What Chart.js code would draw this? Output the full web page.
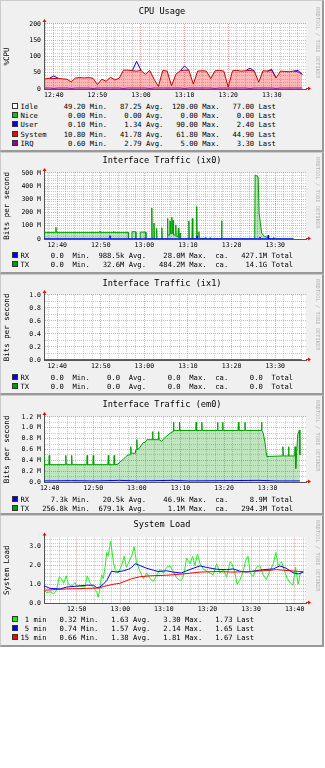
<!DOCTYPE html>
<html>
<head>
<meta charset="utf-8">
<script src="https://cdn.jsdelivr.net/npm/chart.js@4.4.0/dist/chart.umd.min.js"></script>
<style>
body { margin: 0; width: 325px; height: 768px; overflow: hidden; background: #fff; font-family: "DejaVu Sans Mono", monospace; }
.panel { position: absolute; left: 0; width: 324px; box-sizing: border-box; background: #f0f0f0;
  border-top: 1px solid #cbcbcb; border-left: 1px solid #cbcbcb; border-right: 2px solid #999; border-bottom: 2px solid #999; }
.plot { position: absolute; left: -1px; top: -1px; width: 324px; }
.legend { position: absolute; left: 10.5px; font-size: 7.2px; color: #000; }
.legend div { height: 9.2px; line-height: 9.2px; white-space: pre; }
.sq { display: inline-block; width: 4px; height: 4px; border: 1px solid #333; margin-right: 3px; vertical-align: 0px; }
.mark { position: absolute; left: 314px; writing-mode: vertical-rl; font-size: 5.4px; color: #b4b4b4; }
</style>
</head>
<body>

<div class="panel" style="top:0;height:152px">
  <div class="plot" style="height:102px"><canvas id="cpu"></canvas></div>
  <div class="legend" id="lcpu" style="top:101px"></div>
  <div class="mark" style="top:6px">RRDTOOL / TOBI OETIKER</div>
</div>
<div class="panel" style="top:152px;height:122px">
  <div class="plot" style="height:100px"><canvas id="ix0"></canvas></div>
  <div class="legend" id="lix0" style="top:98px"></div>
  <div class="mark" style="top:4px">RRDTOOL / TOBI OETIKER</div>
</div>
<div class="panel" style="top:274px;height:121px">
  <div class="plot" style="height:99px"><canvas id="ix1"></canvas></div>
  <div class="legend" id="lix1" style="top:98px"></div>
  <div class="mark" style="top:4px">RRDTOOL / TOBI OETIKER</div>
</div>
<div class="panel" style="top:395px;height:120px">
  <div class="plot" style="height:100px"><canvas id="em0"></canvas></div>
  <div class="legend" id="lem0" style="top:98.7px"></div>
  <div class="mark" style="top:4px">RRDTOOL / TOBI OETIKER</div>
</div>
<div class="panel" style="top:515px;height:132px">
  <div class="plot" style="height:101px"><canvas id="load"></canvas></div>
  <div class="legend" id="lload" style="top:98.7px"></div>
  <div class="mark" style="top:4px">RRDTOOL / TOBI OETIKER</div>
</div>

<script>
// tempos em minutos depois das 12:00

// CPU Usage
const cpuTimes = [38, 39, 40, 41, 42, 43, 44, 45, 46, 47, 48, 49, 50, 51, 52, 53, 54, 55, 56, 57,
  58, 59, 60, 61, 62, 63, 64, 65, 66, 67, 68, 69, 70, 71, 72, 73, 74, 75, 76, 77,
  78, 79, 80, 81, 82, 83, 84, 85, 86, 87, 88, 89, 90, 91, 92, 93, 94, 95, 96, 97];
const cpuSystem = [31, 33, 32, 33, 31, 30, 22, 34, 35, 34, 35, 33, 14, 30, 24, 36, 28, 33, 58, 58,
  56, 55, 57, 45, 57, 30, 8, 57, 55, 10, 45, 56, 58, 57, 15, 55, 56, 55, 32, 56,
  57, 55, 6, 56, 57, 55, 56, 57, 55, 21, 56, 55, 57, 34, 55, 54, 53, 55, 53, 45];
const cpuUser = [0, 0, 8, 0, 0, 0, 0, 0, 0, 0, 0, 0, 0, 0, 0, 0, 0, 0, 0, 0,
  0, 30, 0, 0, 0, 0, 0, 0, 0, 0, 0, 0, 13, 0, 0, 0, 0, 0, 0, 0,
  0, 0, 0, 0, 0, 0, 0, 7, 0, 0, 0, 0, 3, 0, 0, 0, 0, 0, 4, 0];
const cpuIrq = [3, 3, 2, 3, 3, 3, 2, 3, 3, 3, 3, 2, 3, 3, 3, 3, 3, 3, 2, 3,
  3, 3, 3, 3, 2, 3, 3, 3, 3, 3, 3, 3, 2, 3, 3, 3, 3, 3, 3, 2,
  3, 3, 3, 3, 3, 3, 3, 2, 3, 3, 3, 3, 3, 2, 3, 3, 3, 3, 3, 3];
const cpuNames = ['Idle', 'Nice', 'User', 'System', 'IRQ'];
const cpuMin = [49.20, 0.00, 0.10, 10.80, 0.60];
const cpuAvg = [87.25, 0.00, 1.34, 41.78, 2.79];
const cpuMax = [120.00, 0.00, 90.00, 61.80, 5.00];
const cpuLast = [77.00, 0.00, 2.40, 44.90, 3.30];

// Interface Traffic (ix0), Mbit/s
const ix0TxT = [36.97, 39.6, 39.7, 39.8, 49.7, 49.8, 49.9, 52.8, 52.9, 53.0, 56.3, 56.35,
  57.1, 57.15, 58.0, 58.05, 59.0, 59.05, 60.3, 60.35, 61.6, 61.7, 61.8, 62.1, 62.2, 62.3,
  62.7, 62.8, 62.9, 63.9, 64.0, 64.1, 65.2, 65.3, 65.4, 65.8, 65.9, 66.0, 66.2, 66.3, 66.4,
  66.5, 66.6, 66.7, 67.1, 67.2, 67.3, 67.7, 67.8, 67.9, 68.1, 68.2, 68.3, 70.1, 70.2, 70.3,
  70.9, 71.0, 71.1, 71.9, 72.0, 72.1, 72.4, 72.5, 72.6, 74.0, 74.1, 74.2, 75.0, 75.1, 75.2,
  77.6, 77.7, 77.8, 85.3, 85.4, 86.1, 86.3, 86.6, 86.9, 87.5, 88.5, 88.6, 89.5, 89.6, 89.7, 94.2];
const ix0TxV = [50, 50, 89, 50, 50, 60, 50, 50, 58, 50, 50, 0,
  0, 55, 55, 0, 0, 52, 52, 0, 0, 234, 0, 0, 120, 0,
  0, 80, 0, 0, 85, 0, 0, 155, 30, 30, 137, 40, 40, 165, 40,
  40, 140, 30, 30, 107, 20, 20, 80, 10, 10, 45, 0, 0, 137, 0,
  0, 155, 0, 0, 246, 20, 20, 55, 5, 5, 12, 0, 0, 10, 0,
  0, 137, 0, 0, 485, 470, 200, 120, 45, 20, 10, 0, 0, 10, 0, 0];
const ix0RxT = [36.97, 52.0, 52.1, 52.2, 72.0, 72.1, 72.2, 86.4, 86.5, 86.6, 88.3, 88.4, 88.5, 94.2];
const ix0RxV = [2, 2, 25, 2, 2, 23, 2, 2, 15, 2, 2, 30, 2, 1];
const ix0Min = ['0.0', '0.0'];
const ix0Avg = ['988.5k', '32.6M'];
const ix0Max = ['28.0M', '484.2M'];
const ix0Tot = ['427.1M', '14.1G'];

// Interface Traffic (ix1)
const ix1T = [36.97, 96.1];
const ix1Rx = [0, 0];
const ix1Tx = [0, 0];
const ix1Min = ['0.0', '0.0'];
const ix1Avg = ['0.0', '0.0'];
const ix1Max = ['0.0', '0.0'];
const ix1Tot = ['0.0', '0.0'];

// Interface Traffic (em0), Mbit/s
const em0TxT = [38.7, 38.8,
  39.8, 39.9, 40.0, 43.6, 43.7, 43.8, 44.95, 45.05, 45.15,
  48.5, 48.6, 48.7, 49.9, 50.0, 50.1, 53.35, 53.45, 53.55,
  54.7, 54.8, 54.9, 55.7, 56.1, 56.9, 57.5, 58.0,
  58.5, 58.6, 58.7, 59.6, 59.7, 59.9, 60.0, 60.1,
  60.7, 61.5, 61.9, 62.3, 63.5, 63.6, 63.7, 64.9, 65.0, 65.1,
  65.7, 66.1, 66.9, 67.6, 68.3, 68.4, 68.5,
  69.7, 69.8, 69.9, 73.5, 73.6, 73.7, 74.8, 74.9, 75.0,
  78.4, 78.5, 78.6, 79.6, 79.7, 79.8, 83.2, 83.3, 83.4,
  84.7, 84.8, 84.9, 88.5, 88.6, 88.7, 89.0, 89.4, 89.8,
  93.4, 93.5, 93.6, 94.7, 94.8, 94.9, 96.2, 96.3, 96.4,
  96.5, 96.9, 97.3, 97.4];
const em0TxV = [0.49, 0.32,
  0.32, 0.49, 0.32, 0.32, 0.49, 0.32, 0.32, 0.49, 0.32,
  0.32, 0.49, 0.32, 0.32, 0.49, 0.32, 0.32, 0.49, 0.32,
  0.32, 0.49, 0.32, 0.33, 0.37, 0.42, 0.47, 0.50,
  0.50, 0.65, 0.53, 0.53, 0.59, 0.59, 0.78, 0.59,
  0.64, 0.73, 0.73, 0.78, 0.78, 0.93, 0.78, 0.78, 0.93, 0.78,
  0.75, 0.79, 0.85, 0.90, 0.93, 1.10, 0.95,
  0.95, 1.10, 0.95, 0.95, 1.10, 0.95, 0.95, 1.10, 0.95,
  0.95, 1.10, 0.95, 0.95, 1.10, 0.95, 0.95, 1.10, 0.95,
  0.95, 1.10, 0.95, 0.95, 1.10, 0.95, 0.90, 0.72, 0.47,
  0.48, 0.65, 0.48, 0.48, 0.65, 0.48, 0.48, 0.65, 0.48,
  0.25, 0.87, 0.96, 0.50];
const em0RxT = [38.7, 45, 50, 56, 60, 64, 68, 72, 80, 88, 92, 97.4];
const em0RxV = [0.02, 0.025, 0.02, 0.03, 0.02, 0.025, 0.03, 0.02, 0.025, 0.03, 0.02, 0.02];
const em0Min = ['7.3k', '256.8k'];
const em0Avg = ['20.5k', '679.1k'];
const em0Max = ['46.9k', '1.1M'];
const em0Tot = ['8.9M', '294.3M'];

// System Load
const load1T = [42.5, 43.1, 43.9, 44.6, 45.0, 45.4, 46.0, 46.5, 47.0, 47.6, 48.1, 48.9, 49.6, 50.0,
  50.8, 51.9, 52.4, 53.0, 53.8, 54.6, 54.9, 55.3, 55.7, 56.1, 56.5, 56.9, 57.2, 57.8, 58.4,
  58.8, 59.5, 60.3, 60.9, 61.4, 61.8, 62.6, 63.2, 63.7, 64.5, 65.3, 66.1, 66.8, 67.6, 68.4,
  69.1, 69.9, 70.6, 71.4, 72.1, 72.9, 73.7, 74.3, 74.8, 75.2, 76.0, 76.6, 77.1, 77.7, 78.3,
  79.1, 79.8, 80.6, 81.3, 82.1, 82.9, 83.6, 84.4, 85.2, 85.6, 86.3, 86.8, 87.4, 88.2, 88.8,
  89.3, 89.8, 90.5, 91.2, 92.0, 92.8, 93.5, 94.3, 95.1, 95.7, 96.2, 97.0, 97.7, 98.3, 98.9,
  99.6, 100.2, 100.8, 101.3, 102.0];
const load1 = [0.7, 0.55, 0.6, 0.5, 0.55, 0.7, 1.4, 1.3, 1.05, 1.45, 1.0, 0.9, 1.1, 0.9,
  0.9, 0.85, 1.45, 1.1, 0.85, 0.6, 0.3, 0.7, 1.5, 1.3, 1.9, 2.7, 2.5, 3.3, 2.2,
  1.8, 1.6, 2.0, 2.5, 1.9, 2.1, 2.5, 3.0, 2.2, 1.7, 1.3, 1.6, 1.3, 1.15, 1.5,
  1.8, 1.6, 1.9, 2.0, 1.7, 1.35, 1.2, 1.3, 1.8, 2.4, 2.1, 2.5, 2.0, 2.6, 2.1,
  1.8, 1.7, 1.6, 1.5, 2.1, 1.6, 1.8, 1.4, 2.2, 2.1, 1.6, 1.0, 1.2, 1.7, 2.3,
  2.5, 1.6, 1.4, 1.9, 2.0, 1.5, 1.25, 1.7, 2.1, 2.7, 2.0, 2.2, 1.7, 1.3, 1.1,
  0.95, 1.9, 1.0, 1.6, 1.7];
const load5T = [42.5, 43.9, 46.2, 47.7, 50.0, 52.3, 53.8, 54.6, 55.3, 56.1, 56.9, 58.0, 59.2, 60.7,
  61.9, 62.6, 63.4, 64.5, 66.1, 67.6, 68.7, 70.6, 72.1, 74.0, 75.2, 76.7, 78.3, 79.8, 82.1,
  84.4, 85.9, 87.4, 89.0, 90.5, 92.8, 95.1, 96.6, 98.1, 99.6, 100.8, 102.0];
const load5 = [0.92, 0.78, 0.75, 0.85, 0.9, 0.95, 0.95, 0.82, 0.85, 1.0, 1.2, 1.7, 1.65, 1.72,
  1.8, 1.9, 2.1, 2.0, 1.85, 1.75, 1.68, 1.72, 1.65, 1.6, 1.72, 1.85, 1.98, 1.9, 1.8,
  1.78, 1.82, 1.7, 1.65, 1.7, 1.78, 1.82, 1.98, 1.85, 1.62, 1.55, 1.65];
const load15T = [42.5, 47.7, 52.3, 55.3, 56.1, 58.4, 59.9, 62.6, 64.5, 66.8, 70.6, 74.4, 78.3, 82.1,
  85.9, 89.7, 93.5, 95.8, 97.4, 101.2, 102.0];
const load15 = [0.68, 0.75, 0.78, 0.8, 0.88, 1.0, 1.05, 1.3, 1.4, 1.45, 1.48, 1.55, 1.65, 1.68,
  1.65, 1.68, 1.73, 1.78, 1.75, 1.68, 1.67];
const loadNames = ['1 min', '5 min', '15 min'];
const loadMin = [0.32, 0.74, 0.66];
const loadAvg = [1.63, 1.57, 1.38];
const loadMax = [3.30, 2.14, 1.81];
const loadLast = [1.73, 1.65, 1.67];

Chart.defaults.font.family = '"DejaVu Sans Mono", monospace';
Chart.defaults.color = '#000';

const pts = (t, v) => t.map((x, i) => ({ x: x, y: v[i] }));
const isMult = (v, m) => Math.abs(v / m - Math.round(v / m)) < 1e-6;
const hhmm = v => (12 + Math.floor(v / 60)) + ':' + String(Math.round(v % 60)).padStart(2, '0');
const grade = (v, m) => isMult(v, m) ? 'rgba(200,80,80,0.5)' : 'rgba(140,140,140,0.45)';

// fundo branco da area e setas vermelhas nos eixos
const moldura = {
  id: 'moldura',
  beforeDraw(chart) {
    const a = chart.chartArea, c = chart.ctx;
    c.save();
    c.fillStyle = '#fff';
    c.fillRect(a.left, a.top, a.right - a.left, a.bottom - a.top);
    c.restore();
  },
  afterDraw(chart) {
    const a = chart.chartArea, c = chart.ctx;
    c.save();
    c.strokeStyle = '#555';
    c.lineWidth = 1;
    c.beginPath();
    c.moveTo(a.left + 0.5, a.top); c.lineTo(a.left + 0.5, a.top - 3);
    c.moveTo(a.right, a.bottom - 0.5); c.lineTo(a.right + 3, a.bottom - 0.5);
    c.stroke();
    c.fillStyle = '#f00';
    c.beginPath();
    c.moveTo(a.left - 1.5, a.top - 2); c.lineTo(a.left + 2.5, a.top - 2); c.lineTo(a.left + 0.5, a.top - 5);
    c.fill();
    c.beginPath();
    c.moveTo(a.right + 2, a.bottom - 2.5); c.lineTo(a.right + 2, a.bottom + 1.5); c.lineTo(a.right + 5, a.bottom - 0.5);
    c.fill();
    c.restore();
  }
};

function grafico(id, o) {
  return new Chart(document.getElementById(id), {
    type: 'line',
    data: { datasets: o.datasets },
    options: {
      animation: false,
      responsive: true,
      maintainAspectRatio: false,
      layout: { padding: 0 },
      elements: { point: { radius: 0 }, line: { borderWidth: 1, tension: 0 } },
      plugins: {
        legend: { display: false },
        tooltip: { enabled: false },
        title: {
          display: true, text: o.title,
          font: { size: 8.6, weight: 'normal' },
          padding: { top: o.tTop, bottom: o.tBottom }
        }
      },
      scales: {
        x: {
          type: 'linear', min: o.x0, max: o.x1,
          ticks: { stepSize: 2, includeBounds: false, autoSkip: false, maxRotation: 0, padding: 2,
            font: { size: 6.5 }, callback: v => isMult(v, 10) ? hhmm(v) : '' },
          grid: { drawTicks: false, color: c => grade(c.tick.value, 10) },
          border: { color: '#555', dash: [1, 1] },
          afterFit: s => { s.height = 13; }
        },
        y: {
          min: 0, max: o.yMax, stacked: !!o.stacked,
          ticks: { stepSize: o.yStep, includeBounds: false, autoSkip: false, padding: 3,
            font: { size: 6.5 }, callback: v => isMult(v, o.yMajor) ? o.yFmt(v) : '' },
          grid: { drawTicks: false, color: c => grade(c.tick.value, o.yMajor) },
          border: { color: '#555', dash: [1, 1] },
          title: { display: true, text: o.yTitle, font: { size: 7.5 }, padding: { top: o.yPad, bottom: 0 } },
          afterFit: s => { s.width = 44; }
        },
        yDir: {
          type: 'linear', position: 'right',
          grid: { display: false }, ticks: { display: false }, border: { display: false },
          afterFit: s => { s.width = 18; }
        }
      }
    },
    plugins: [moldura]
  });
}

function legenda(id, cores, linhas) {
  const el = document.getElementById(id);
  linhas.forEach((txt, i) => {
    const d = document.createElement('div');
    const q = document.createElement('span');
    q.className = 'sq';
    q.style.background = cores[i];
    d.appendChild(q);
    d.appendChild(document.createTextNode(txt));
    el.appendChild(d);
  });
}

const f2 = (v, w) => v.toFixed(2).padStart(w);
const un = s => /[kMG]$/.test(s) ? s : s + ' ';
const linhaRede = (n, a, b, c, d) => n.padEnd(2) + un(a).padStart(9) + ' Min.' + un(b).padStart(8) + ' Avg.' +
  un(c).padStart(9) + ' Max.' + '  ca.' + un(d).padStart(9) + ' Total';

// CPU: User empilhado sobre System, so aparece onde e maior que zero
grafico('cpu', {
  title: 'CPU Usage', tTop: 6.8, tBottom: 6.8, yTitle: '%CPU', yPad: 3,
  x0: 37.75, x1: 97.85, yMax: 200, yStep: 10, yMajor: 50, yFmt: v => String(v), stacked: true,
  datasets: [
    { data: pts(cpuTimes, cpuIrq), borderColor: '#8800aa', fill: false, stack: 'irq' },
    { data: pts(cpuTimes, cpuSystem), borderColor: '#cc0000', backgroundColor: 'rgba(255,0,0,0.28)', fill: 'origin', stack: 'cpu' },
    { data: pts(cpuTimes, cpuUser), borderColor: '#0000ff', fill: false, stack: 'cpu',
      segment: { borderColor: c => (cpuUser[c.p0DataIndex] || cpuUser[c.p1DataIndex]) ? '#0000ff' : 'rgba(0,0,0,0)' } }
  ]
});
legenda('lcpu', ['#ffffff', '#00cc00', '#0000ff', '#ff0000', '#990099'],
  cpuNames.map((n, i) => n.padEnd(7) + f2(cpuMin[i], 8) + ' Min.' + f2(cpuAvg[i], 8) + ' Avg.' +
    f2(cpuMax[i], 8) + ' Max.' + f2(cpuLast[i], 8) + ' Last'));

// ix0
grafico('ix0', {
  title: 'Interface Traffic (ix0)', tTop: 3.8, tBottom: 6.8, yTitle: 'Bits per second', yPad: 2.5,
  x0: 36.97, x1: 97.07, yMax: 500, yStep: 20, yMajor: 100, yFmt: v => v === 0 ? '0' : v + ' M',
  datasets: [
    { data: pts(ix0RxT, ix0RxV), borderColor: '#0000ff', fill: false },
    { data: pts(ix0TxT, ix0TxV), borderColor: '#00a000', backgroundColor: 'rgba(0,150,0,0.25)', fill: 'origin' }
  ]
});
legenda('lix0', ['#0000ff', '#00a000'], ['RX', 'TX'].map((n, i) => linhaRede(n, ix0Min[i], ix0Avg[i], ix0Max[i], ix0Tot[i])));

// ix1
grafico('ix1', {
  title: 'Interface Traffic (ix1)', tTop: 4.8, tBottom: 5.8, yTitle: 'Bits per second', yPad: 2.5,
  x0: 36.97, x1: 97.07, yMax: 1, yStep: 0.1, yMajor: 0.2, yFmt: v => v.toFixed(1),
  datasets: [
    { data: pts(ix1T, ix1Rx), borderColor: '#0000ff', fill: false },
    { data: pts(ix1T, ix1Tx), borderColor: '#00a000', backgroundColor: 'rgba(0,150,0,0.25)', fill: 'origin' }
  ]
});
legenda('lix1', ['#0000ff', '#00a000'], ['RX', 'TX'].map((n, i) => linhaRede(n, ix1Min[i], ix1Avg[i], ix1Max[i], ix1Tot[i])));

// em0
grafico('em0', {
  title: 'Interface Traffic (em0)', tTop: 4.8, tBottom: 6.8, yTitle: 'Bits per second', yPad: 2.5,
  x0: 38.7, x1: 98.8, yMax: 1.2, yStep: 0.1, yMajor: 0.2, yFmt: v => v === 0 ? '0.0' : v.toFixed(1) + ' M',
  datasets: [
    { data: pts(em0RxT, em0RxV), borderColor: '#0000ff', fill: false },
    { data: pts(em0TxT, em0TxV), borderColor: '#00a000', backgroundColor: 'rgba(0,150,0,0.25)', fill: 'origin' }
  ]
});
legenda('lem0', ['#0000ff', '#00a000'], ['RX', 'TX'].map((n, i) => linhaRede(n, em0Min[i], em0Avg[i], em0Max[i], em0Tot[i])));

// System Load
grafico('load', {
  title: 'System Load', tTop: 4.8, tBottom: 7.3, yTitle: 'System Load', yPad: 3,
  x0: 42.5, x1: 102.6, yMax: 3.5, yStep: 0.2, yMajor: 1, yFmt: v => v.toFixed(1),
  datasets: [
    { data: pts(load15T, load15), borderColor: '#ff0000', fill: false },
    { data: pts(load5T, load5), borderColor: '#0000ff', fill: false },
    { data: pts(load1T, load1), borderColor: '#22ee22', fill: false }
  ]
});
legenda('lload', ['#00ff00', '#0000ff', '#ff0000'],
  loadNames.map((n, i) => n.padStart(6) + f2(loadMin[i], 7) + ' Min.' + f2(loadAvg[i], 7) + ' Avg.' +
    f2(loadMax[i], 7) + ' Max.' + f2(loadLast[i], 7) + ' Last'));
</script>
</body>
</html>
